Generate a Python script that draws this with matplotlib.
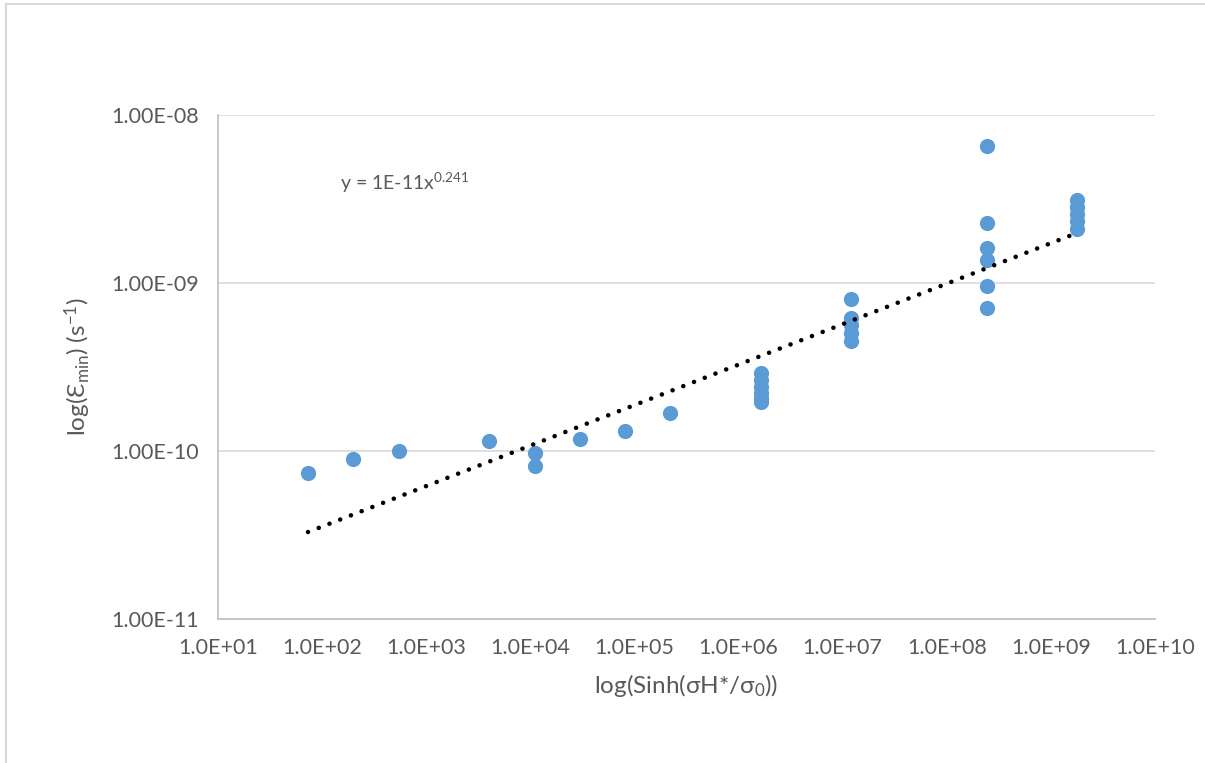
import numpy as np
import matplotlib
matplotlib.use("Agg")
import matplotlib.pyplot as plt
from matplotlib.lines import Line2D

plt.rcParams['font.family'] = ['Lato', 'DejaVu Sans']
plt.rcParams['mathtext.fontset'] = 'custom'
plt.rcParams['mathtext.rm'] = 'Lato'
plt.rcParams['mathtext.it'] = 'Lato:italic'

# ---- data ----
x_vals = [73.2, 198, 548, 4010, 11100, 11100, 30000, 81100, 2.20e5,
          1.64e6, 1.64e6, 1.64e6, 1.64e6, 1.64e6, 1.64e6,
          1.20e7, 1.20e7, 1.20e7, 1.20e7, 1.20e7,
          2.44e8, 2.44e8, 2.44e8, 2.44e8, 2.44e8, 2.44e8,
          1.78e9, 1.78e9, 1.78e9, 1.78e9, 1.78e9]
y_vals = [7.40e-11, 8.95e-11, 1.00e-10, 1.148e-10, 9.73e-11, 8.15e-11, 1.18e-10, 1.315e-10, 1.68e-10,
          2.91e-10, 2.65e-10, 2.40e-10, 2.21e-10, 2.07e-10, 1.96e-10,
          8.03e-10, 6.19e-10, 5.62e-10, 5.04e-10, 4.52e-10,
          6.54e-9, 2.28e-9, 1.61e-9, 1.37e-9, 9.60e-10, 7.10e-10,
          3.12e-9, 2.83e-9, 2.57e-9, 2.34e-9, 2.10e-9]
# drawn trendline (power law y = a * x^b)
trend_a = 1.17e-11
trend_b = 0.241
x_ticks = [1e1, 1e2, 1e3, 1e4, 1e5, 1e6, 1e7, 1e8, 1e9, 1e10]
x_ticklabels = ["1.0E+01", "1.0E+02", "1.0E+03", "1.0E+04", "1.0E+05",
                "1.0E+06", "1.0E+07", "1.0E+08", "1.0E+09", "1.0E+10"]
y_ticks = [1e-11, 1e-10, 1e-9, 1e-8]
y_ticklabels = ["1.00E-11", "1.00E-10", "1.00E-09", "1.00E-08"]
equation = "y = 1E-11x$^{0.241}$"

W, H = 1205, 763
fig = plt.figure(figsize=(W / 100, H / 100), dpi=100)
ax = fig.add_axes([218 / W, 1 - 619 / H, (1155 - 218) / W, (619 - 115) / H])

ax.set_xscale('log')
ax.set_yscale('log')
ax.set_xlim(x_ticks[0], x_ticks[-1])
ax.set_ylim(y_ticks[0], y_ticks[-1])

ax.scatter(x_vals, y_vals, s=120, color='#5B9BD5', zorder=3, linewidths=0)

xt = np.logspace(np.log10(min(x_vals)), np.log10(max(x_vals)), 100)
ax.plot(xt, trend_a * xt ** trend_b, color='black', lw=3.3,
        linestyle=(0, (0.01, 2.5)), dash_capstyle='round', zorder=4)

ax.set_xticks(x_ticks)
ax.set_xticklabels(x_ticklabels)
ax.set_yticks(y_ticks)
ax.set_yticklabels(y_ticklabels)
ax.minorticks_off()
ax.tick_params(length=0, labelsize=15.5, colors='#595959')
ax.tick_params(axis='x', pad=14)
ax.tick_params(axis='y', pad=14)

for s in ['top', 'right']:
    ax.spines[s].set_visible(False)
ax.spines['left'].set_color('#BFBFBF')
ax.spines['bottom'].set_color('#BFBFBF')
ax.spines['left'].set_linewidth(1.2)
ax.spines['bottom'].set_linewidth(1.2)
ax.grid(axis='y', color='#D9D9D9', lw=1.2)
ax.set_axisbelow(True)

ax.set_xlabel(r"log(Sinh(σH*/σ$_{\mathrm{0}}$))", fontsize=17.5, color='#595959', labelpad=10)
ax.set_ylabel(r"log(Ɛ$_{\mathrm{min}}$) (s$^{\mathrm{-1}}$)", fontsize=17.5, color='#595959', labelpad=13)

fig.text(340 / W, 1 - 183 / H, equation, fontsize=14, color='#595959', va='center', ha='left')

# outer chart border (left and top visible)
fig.add_artist(Line2D([6 / W, 6 / W], [0, 1 - 4 / H], transform=fig.transFigure, color='#D9D9D9', lw=1.5))
fig.add_artist(Line2D([6 / W, 1], [1 - 4 / H, 1 - 4 / H], transform=fig.transFigure, color='#D9D9D9', lw=1.5))

fig.savefig("out.png", dpi=100)
